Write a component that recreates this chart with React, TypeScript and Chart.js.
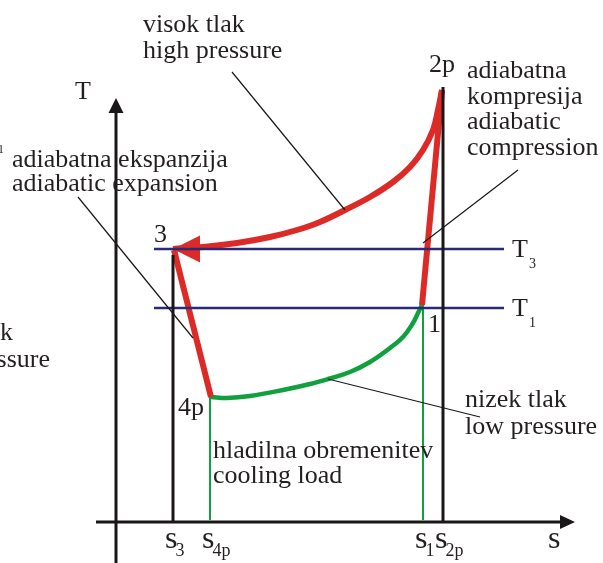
import React, { useEffect, useRef } from "react";
import { Chart, registerables } from "chart.js";

Chart.register(...registerables);

// ---- Data (chart units: s = entropy, T = temperature, arbitrary scale) ----
const highPressureS = [326, 322, 317, 307, 294, 277, 254, 229, 204, 181, 154, 121, 87, 57];
const highPressureT = [432, 412, 392, 372, 355, 340, 325, 312, 300, 292, 285, 279, 275, 273];

const compressionS = [306, 326];
const compressionT = [217, 432];

const expansionS = [58, 95];
const expansionT = [272, 125];

const lowPressureS = [95, 111, 134, 167, 194, 212, 234, 254, 274, 287, 297, 302, 306];
const lowPressureT = [125, 124, 126, 132, 138, 143, 150, 160, 174, 185, 199, 209, 217];

const isothermNames = ["3", "1"];
const isothermT = [273, 214];
const isothermSFrom = 38;
const isothermSTo = 388;

const tickNames = ["3", "4p", "1", "2p"];
const tickS = [57, 94, 307, 327];
const tickTop = [267, 125, 217, 435];
const tickIsGreen = [false, true, true, false];

const sAxisRange = [-20, 459];
const tAxisRange = [-41, 424];

// leader lines: [sFrom, tFrom, sTo, tTo]
const leaderHigh = [116, 450, 229, 312];
const leaderExpansion = [-38, 325, 77, 184];
const leaderCompression = [402, 352, 307, 279];
const leaderLow = [364, 105, 212, 143];

// ---- styles ----
const RED = "#dc2b27";
const GREEN = "#10a03e";
const NAVY = "#2b2a7a";
const BLACK = "#1a1718";
const TEXT = "#231f20";
const FONT = '"Liberation Serif", "Times New Roman", serif';

type Note = {
  text: string;
  s: number;
  t: number;
  size?: number;
  align?: CanvasTextAlign;
  sub?: string;
  subSize?: number;
  subDx?: number;
  subDy?: number;
};

const notes: Note[] = [
  { text: "T", s: -41, t: 423 },
  { text: "visok tlak", s: 27, t: 490 },
  { text: "high pressure", s: 27, t: 464 },
  { text: "adiabatna ekspanzija", s: -104, t: 355 },
  { text: "adiabatic expansion", s: -104, t: 331 },
  { text: "1", s: -118, t: 369, size: 12 },
  { text: "adiabatna", s: 351, t: 444 },
  { text: "kompresija", s: 351, t: 418 },
  { text: "adiabatic", s: 351, t: 393 },
  { text: "compression", s: 351, t: 367 },
  { text: "2p", s: 313, t: 450 },
  { text: "3", s: 38, t: 280 },
  { text: "4p", s: 62, t: 107 },
  { text: "1", s: 312, t: 190 },
  { text: "nizek tlak", s: 349, t: 115 },
  { text: "low pressure", s: 349, t: 88 },
  { text: "hladilna obremenitev", s: 97, t: 64 },
  { text: "cooling load", s: 97, t: 39 },
  { text: "k", s: -103, t: 182, align: "right" },
  { text: "ssure", s: -66, t: 155, align: "right" },
  { text: "s", s: 432, t: -26, size: 32 },
];

const pts = (s: number[], t: number[]) => s.map((v, i) => ({ x: v, y: t[i] }));

function lineDs(data: { x: number; y: number }[], color: string, width: number, order: number, tension = 0) {
  return {
    data,
    showLine: true,
    borderColor: color,
    backgroundColor: color,
    borderWidth: width,
    pointRadius: 0,
    pointHoverRadius: 0,
    tension,
    clip: false as any,
    order,
    borderJoinStyle: "round" as CanvasLineJoin,
  };
}

function drawNote(chart: any, ctx: CanvasRenderingContext2D, n: Note) {
  const x = chart.scales.x.getPixelForValue(n.s);
  const y = chart.scales.y.getPixelForValue(n.t);
  ctx.font = `${n.size ?? 26}px ${FONT}`;
  ctx.textAlign = n.align ?? "left";
  ctx.textBaseline = "alphabetic";
  ctx.fillStyle = TEXT;
  ctx.fillText(n.text, x, y);
  if (n.sub) {
    const w = ctx.measureText(n.text).width;
    ctx.font = `${n.subSize ?? 18}px ${FONT}`;
    ctx.textAlign = "left";
    ctx.fillText(n.sub, x + w + (n.subDx ?? 0), y + (n.subDy ?? 8));
  }
}

function triangle(ctx: CanvasRenderingContext2D, p: number[][], color: string) {
  ctx.beginPath();
  ctx.moveTo(p[0][0], p[0][1]);
  ctx.lineTo(p[1][0], p[1][1]);
  ctx.lineTo(p[2][0], p[2][1]);
  ctx.closePath();
  ctx.fillStyle = color;
  ctx.fill();
}

const decorPlugin = {
  id: "decor",
  beforeDatasetsDraw(chart: any) {
    const ctx = chart.ctx as CanvasRenderingContext2D;
    const xs = chart.scales.x, ys = chart.scales.y;
    // red flow arrow at state 3 (end of high-pressure line)
    const n = highPressureS.length - 1;
    const tx = xs.getPixelForValue(highPressureS[n]);
    const ty = ys.getPixelForValue(highPressureT[n]);
    ctx.save();
    triangle(ctx, [[tx, ty], [tx + 27, ty - 13.5], [tx + 27, ty + 13.5]], RED);
    ctx.restore();
  },
  afterDatasetsDraw(chart: any) {
    const ctx = chart.ctx as CanvasRenderingContext2D;
    const xs = chart.scales.x, ys = chart.scales.y;
    ctx.save();
    // T axis arrow
    const ax = xs.getPixelForValue(0);
    const ay = ys.getPixelForValue(tAxisRange[1]);
    triangle(ctx, [[ax, ay], [ax - 7.5, ay + 15], [ax + 7.5, ay + 15]], BLACK);
    // s axis arrow
    const bx = xs.getPixelForValue(sAxisRange[1]);
    const by = ys.getPixelForValue(0);
    triangle(ctx, [[bx, by], [bx - 15, by - 7], [bx - 15, by + 7]], BLACK);

    notes.forEach((n) => drawNote(chart, ctx, n));
    // isotherm labels
    isothermNames.forEach((name, i) =>
      drawNote(chart, ctx, { text: "T", s: isothermSTo + 8, t: isothermT[i] - 8, sub: name, subSize: 14, subDx: 1, subDy: 11 })
    );
    // entropy tick labels
    tickNames.forEach((name, i) =>
      drawNote(chart, ctx, { text: "s", s: tickS[i] - 8, t: -26, size: 32, sub: name, subSize: 18, subDx: -2, subDy: 8 })
    );
    ctx.restore();
  },
};

export default function App() {
  const ref = useRef<HTMLCanvasElement | null>(null);

  useEffect(() => {
    document.body.style.margin = "0";
    const canvas = ref.current;
    if (!canvas) return;

    const datasets: any[] = [];
    // leader lines (top)
    [leaderHigh, leaderExpansion, leaderCompression, leaderLow].forEach((l) =>
      datasets.push(lineDs(pts([l[0], l[2]], [l[1], l[3]]), BLACK, 1.2, 0))
    );
    // axes
    datasets.push(lineDs(pts([0, 0], [tAxisRange[0], tAxisRange[1] - 6]), BLACK, 3, 1));
    datasets.push(lineDs(pts([sAxisRange[0], sAxisRange[1] - 6], [0, 0]), BLACK, 3, 1));
    // vertical state lines
    tickS.forEach((s, i) =>
      datasets.push(
        lineDs(pts([s, s], [tickIsGreen[i] ? 2 : 0, tickTop[i]]), tickIsGreen[i] ? GREEN : BLACK, tickIsGreen[i] ? 2 : 3, tickIsGreen[i] ? 4 : 1)
      )
    );
    // isotherms
    isothermT.forEach((t) => datasets.push(lineDs(pts([isothermSFrom, isothermSTo], [t, t]), NAVY, 2.5, 2)));
    // process lines
    datasets.push(lineDs(pts(highPressureS, highPressureT), RED, 6, 3, 0.4));
    datasets.push(lineDs(pts(compressionS, compressionT), RED, 6, 3));
    datasets.push(lineDs(pts(expansionS, expansionT), RED, 6, 3));
    datasets.push(lineDs(pts(lowPressureS, lowPressureT), GREEN, 4.5, 3, 0.4));

    const chart = new Chart(canvas, {
      type: "scatter",
      data: { datasets },
      options: {
        animation: false,
        responsive: false,
        maintainAspectRatio: false,
        events: [],
        layout: { padding: 0 },
        plugins: { legend: { display: false }, tooltip: { enabled: false } },
        scales: {
          x: { type: "linear", min: -116, max: 487, display: false },
          y: { type: "linear", min: -41, max: 522, display: false },
        },
      },
      plugins: [decorPlugin],
    });
    return () => chart.destroy();
  }, []);

  return (
    <div style={{ width: 603, height: 563, background: "#ffffff" }}>
      <canvas ref={ref} width={603} height={563} style={{ display: "block", width: 603, height: 563 }} />
    </div>
  );
}
